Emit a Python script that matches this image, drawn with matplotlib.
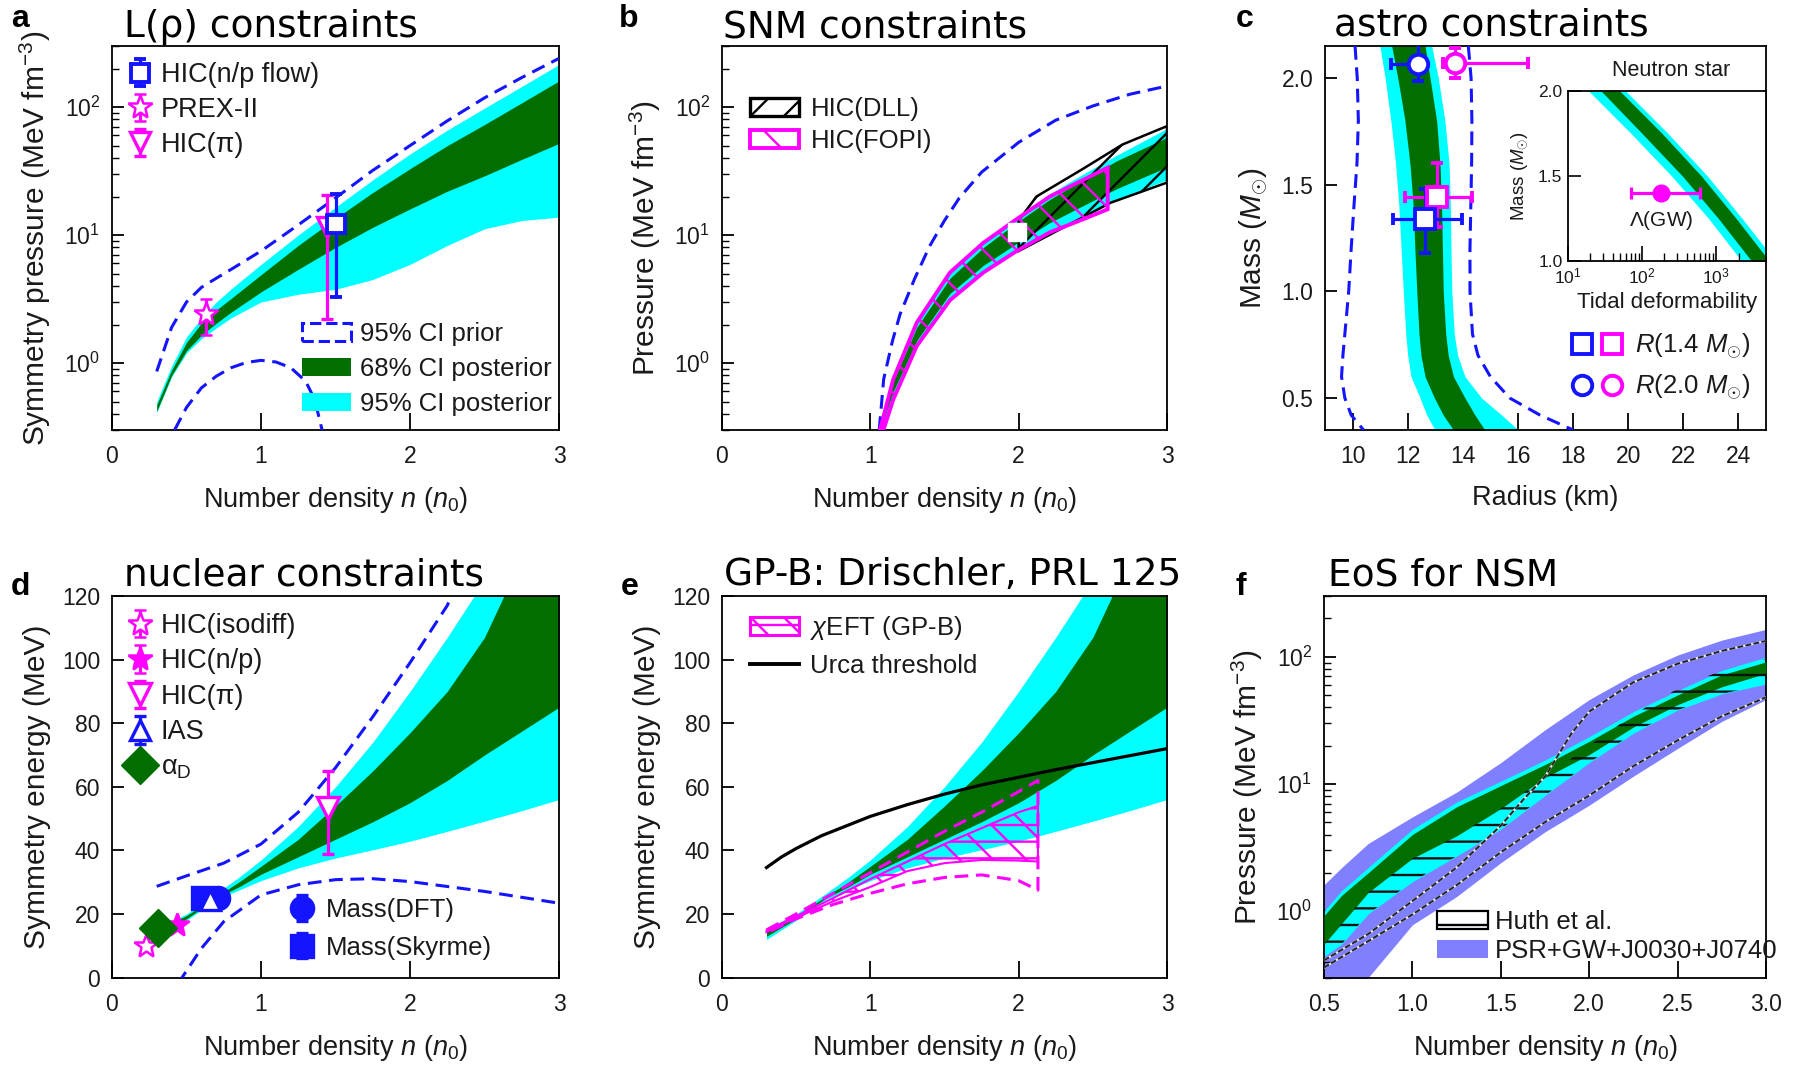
import numpy as np
import matplotlib
matplotlib.use('Agg')
import matplotlib.pyplot as plt
from matplotlib.patches import Patch
from matplotlib.lines import Line2D
from matplotlib.legend_handler import HandlerTuple
from matplotlib.ticker import LogLocator, NullFormatter

GREEN = '#006f00'
CYAN = '#00ffff'
BLUE = '#1414ff'
MAGENTA = '#ff00ff'
PURPLE = '#8080ff'
DASH = (0, (4.5, 2.5))

# ---------------- panel a: symmetry pressure ----------------
n_a = [0.3, 0.4, 0.5, 0.6, 0.7, 0.8, 1.0, 1.25, 1.5, 1.75, 2.0, 2.25, 2.5, 2.75, 3.0]
a_cyan_hi = [0.5, 0.95, 1.6, 2.25, 3.0, 3.8, 5.9, 10.0, 16.5, 27, 43, 66, 98, 145, 215]
a_green_hi = [0.47, 0.88, 1.45, 2.05, 2.6, 3.2, 4.9, 8.3, 13.5, 21.5, 33, 50, 73, 108, 160]
a_green_lo = [0.42, 0.8, 1.25, 1.65, 2.05, 2.5, 3.6, 5.4, 8.0, 11.5, 16, 22, 29, 39, 52]
a_cyan_lo = [0.41, 0.78, 1.2, 1.55, 1.88, 2.26, 3.0, 3.45, 3.77, 4.5, 5.9, 8.3, 11.2, 13.0, 13.8]
a_prior_hi = [0.86, 1.9, 3.0, 3.9, 4.6, 5.4, 7.5, 12, 19.5, 32, 50, 78, 118, 170, 240]
n_a_prior_lo = [0.42, 0.5, 0.6, 0.7, 0.8, 0.9, 1.0, 1.1, 1.2, 1.3, 1.36, 1.41]
a_prior_lo = [0.3, 0.45, 0.64, 0.79, 0.92, 1.01, 1.05, 1.02, 0.92, 0.72, 0.52, 0.3]
# points: n, value, low, high
flow_pt = (1.5, 12.2, 3.3, 21.0)
prex_pt = (0.63, 2.4, 1.67, 3.15)
pi_a_pt = (1.445, 11.5, 2.2, 20.4)

# ---------------- panel b: SNM pressure ----------------
n_b = [1.065, 1.155, 1.313, 1.537, 1.762, 1.986, 2.21, 2.435, 2.66, 3.0]
b_cyan_hi = [0.3, 0.8, 2.1, 5.0, 8.6, 13.5, 21, 30, 42, 68]
b_green_hi = [0.3, 0.72, 1.9, 4.6, 8.0, 12.5, 19, 27, 38, 58]
b_green_lo = [0.3, 0.6, 1.5, 3.5, 5.8, 8.6, 12.5, 17, 23, 34]
b_cyan_lo = [0.28, 0.52, 1.36, 3.1, 5.1, 7.5, 10.5, 14, 19, 27]
n_b_prior = [1.06, 1.09, 1.15, 1.2, 1.3, 1.4, 1.5, 1.6, 1.75, 2.0, 2.25, 2.5, 2.75, 3.0]
b_prior = [0.3, 0.75, 1.5, 2.4, 4.6, 8.2, 13, 19.5, 31, 53, 79, 102, 126, 146]
dll_n_hi = [2.0, 2.12, 2.435, 2.7, 3.0]
dll_hi = [13, 20, 33, 51, 71]
dll_n_lo = [2.0, 2.62, 3.0]
dll_lo = [7.5, 17.9, 25.7]
fopi_n_hi = [1.065, 1.155, 1.313, 1.537, 1.762, 1.986, 2.21, 2.435, 2.6]
fopi_hi = [0.3, 0.75, 2.07, 5.1, 8.7, 13.3, 20, 27, 33.6]
fopi_n_lo = [1.088, 1.155, 1.313, 1.537, 1.762, 1.986, 2.21, 2.435, 2.6]
fopi_lo = [0.3, 0.52, 1.36, 3.1, 5.1, 7.5, 10.5, 13.3, 15.9]
snm_pt = (1.99, 10.5)

# ---------------- panel c: mass-radius ----------------
M_c = [2.15, 2.0, 1.8, 1.6, 1.4, 1.2, 1.0, 0.8, 0.7, 0.6, 0.5, 0.42, 0.35]
c_cyan_l = [10.99, 11.18, 11.39, 11.56, 11.68, 11.76, 11.84, 11.93, 12.0, 12.12, 12.45, 12.69, 12.99]
c_green_l = [11.42, 11.64, 11.9, 12.08, 12.2, 12.26, 12.33, 12.41, 12.48, 12.63, 12.97, 13.29, 13.66]
c_green_r = [12.63, 12.81, 13.05, 13.17, 13.23, 13.26, 13.29, 13.38, 13.47, 13.66, 14.08, 14.44, 14.8]
c_cyan_r = [12.87, 13.11, 13.35, 13.5, 13.55, 13.57, 13.6, 13.69, 13.81, 14.08, 14.68, 15.41, 16.01]
c_prior_l = [10.09, 10.17, 10.21, 10.16, 10.05, 9.95, 9.86, 9.72, 9.65, 9.6, 9.72, 9.95, 10.4]
c_prior_r = [14.2, 14.3, 14.33, 14.32, 14.29, 14.26, 14.26, 14.35, 14.55, 15.0, 15.7, 16.8, 18.0]
# R, M, R_lo, R_hi, M_lo, M_hi
r20_blue = (12.39, 2.065, 11.41, 12.66, 1.985, 2.16)
r20_mag = (13.72, 2.07, 13.29, 16.38, 2.0, 2.14)
r14_mag = (13.05, 1.44, 11.9, 14.32, 1.30, 1.60)
r14_blue = (12.63, 1.34, 11.48, 13.96, 1.18, 1.48)
# inset: tidal deformability
M_in = [2.0, 1.75, 1.5, 1.25, 1.0]
in_cyan_l = [19, 71, 250, 790, 2200]
in_green_l = [28, 100, 350, 1070, 3000]
in_green_r = [50, 186, 630, 1860, 5200]
in_cyan_r = [60, 224, 760, 2240, 6300]
gw_pt = (182, 1.4, 70, 600)

# ---------------- panels d, e: symmetry energy ----------------
n_d = [0.3, 0.5, 0.7, 0.85, 1.0, 1.25, 1.5, 1.75, 2.0, 2.25, 2.5, 2.75, 3.0]
d_cyan_hi = [15.5, 20, 26.5, 31.5, 37, 47.5, 60, 74, 90, 107, 125, 145, 165]
d_green_hi = [15, 19.5, 25.5, 30, 35, 43.5, 54, 65, 77, 90, 107, 132, 160]
d_green_lo = [13, 18.5, 25, 28.5, 32.5, 38, 43.5, 49, 55, 62, 70, 77.5, 85]
d_cyan_lo = [12, 18, 24.5, 27.5, 30.5, 34.5, 37.6, 40.2, 42.9, 46, 49.2, 52.5, 56]
n_d_prior_hi = [0.3, 0.5, 0.75, 1.0, 1.25, 1.5, 1.75, 2.0, 2.25, 2.35]
d_prior_hi = [28.7, 32, 36, 42, 52, 66, 82, 99, 117, 128]
n_d_prior_lo = [0.45, 0.47, 0.6, 0.75, 1.0, 1.25, 1.5, 1.75, 2.0, 2.5, 3.0]
d_prior_lo = [-2, 0, 9.2, 17.6, 26, 29.2, 30.8, 31.1, 30.2, 27.1, 23.4]
isodiff_pt = (0.23, 10.0, 9.0, 11.0)
np_pt = (0.434, 16.5, 15.5, 17.5)
pi_d_pt = (1.45, 53.4, 38.9, 65.0)
ias_pt = (0.66, 24.4, 23.4, 25.4)
alphad_pt = (0.306, 15.5)
dft_pt = (0.712, 25.0, 24.0, 26.0)
skyrme_pt = (0.61, 25.0, 24.0, 26.0)

n_urca = [0.3, 0.4, 0.5, 0.67, 1.0, 1.25, 1.5, 1.75, 2.0, 2.25, 2.5, 2.75, 3.0]
e_urca = [34.6, 37.9, 40.6, 44.6, 50.7, 54.4, 57.7, 60.6, 63.0, 65.4, 67.6, 69.8, 72.0]
n_chi = [0.3, 0.5, 0.75, 1.0, 1.25, 1.5, 1.75, 2.0, 2.13]
chi_out_hi = [15, 20, 26.5, 33, 39.5, 46, 52, 58.5, 62]
chi_out_lo = [14, 18.5, 23, 26.5, 29.5, 31.5, 32.3, 30.5, 27.5]
chi_in_hi = [14.8, 19.3, 25, 31, 36.5, 42, 47, 52, 54]
chi_in_lo = [14.3, 18.8, 24, 28.5, 33.5, 36, 37, 36.8, 36.5]

# ---------------- panel f: NSM pressure ----------------
n_f = [0.5, 0.6, 0.75, 1.0, 1.25, 1.5, 1.75, 2.0, 2.25, 2.5, 2.75, 3.0]
f_psr_hi = [1.61, 2.2, 3.4, 5.5, 8.6, 14.7, 26.6, 46, 72, 103, 135, 164]
f_psr_lo = [0.12, 0.17, 0.3, 0.78, 1.3, 2.4, 4.2, 6.8, 11.5, 19, 31, 46]
f_cyan_hi = [1.0, 1.45, 2.2, 4.4, 7.2, 10.5, 15.4, 23.5, 37, 54, 78, 99]
f_green_hi = [0.92, 1.33, 2.0, 4.0, 6.6, 9.7, 14.2, 21.6, 34, 50, 72, 91]
f_green_lo = [0.55, 0.8, 1.4, 2.6, 3.9, 6.4, 11.2, 17, 28, 42, 58, 74]
f_cyan_lo = [0.44, 0.55, 0.95, 1.7, 2.7, 4.4, 8.1, 14.7, 25, 38, 51, 61]
f_huth_hi = [0.55, 0.8, 1.4, 2.6, 3.9, 6.4, 11.2, 20, 35, 56, 78, 96]
n_f_dash_a = [0.5, 0.75, 1.0, 1.25, 1.5, 1.63, 1.75, 1.9, 2.0, 2.25, 2.5, 2.75, 3.0]
f_dash_a = [0.41, 0.66, 1.2, 2.2, 4.7, 7.6, 11.4, 25, 37, 63, 88, 111, 133]
n_f_dash_b = [0.5, 0.75, 1.0, 1.25, 1.5, 1.75, 2.0, 2.25, 2.5, 2.75, 3.0]
f_dash_b = [0.36, 0.58, 0.94, 1.6, 2.9, 5.0, 8.1, 13.8, 22, 34, 48]

LEG = 18.5
plt.rcParams.update({
    'font.family': ['Liberation Sans', 'DejaVu Sans'],
    'mathtext.fontset': 'custom',
    'mathtext.rm': 'Liberation Sans',
    'mathtext.it': 'Liberation Sans:italic',
    'axes.linewidth': 1.3,
    'xtick.direction': 'in',
    'ytick.direction': 'in',
    'xtick.labelsize': 16.5,
    'ytick.labelsize': 16.5,
    'axes.labelsize': 19.5,
    'text.color': '#1a1a1a',
    'axes.labelcolor': '#1a1a1a',
    'xtick.labelcolor': '#1a1a1a',
    'ytick.labelcolor': '#1a1a1a',
    'hatch.linewidth': 1.7,
    'legend.frameon': False,
    'legend.fontsize': LEG,
    'legend.borderpad': 0,
    'legend.borderaxespad': 0,
})

W, H = 1803, 1065
fig = plt.figure(figsize=(W / 100, H / 100), dpi=100)


def box(l, r, t, b):
    return [l / W, 1 - b / H, (r - l) / W, (b - t) / H]


def at(b, x, y):
    # pixel position -> axes fraction for an axes placed with box()
    l, r, t, bt = b
    return ((x - l) / (r - l), (bt - y) / (bt - t))


def prep(ax, log=False):
    ax.tick_params(axis='x', which='major', length=12, width=1.3, pad=11)
    ax.tick_params(axis='y', which='major', length=8.5, width=1.3, pad=8.5)
    ax.tick_params(axis='y', which='minor', length=5, width=1.0)
    if log:
        ax.set_yscale('log')
        ax.set_ylim(0.3, 300)
        ax.yaxis.set_minor_locator(LogLocator(subs=np.arange(2, 10)))
        ax.yaxis.set_minor_formatter(NullFormatter())


def nlabel(ax):
    ax.set_xlabel('Number density $n$ ($n_0$)', labelpad=12)
    ax.set_xlim(0, 3)
    ax.set_xticks([0, 1, 2, 3])


def ylab(ax, s):
    ax.set_ylabel(s, fontsize=21.5, labelpad=8)


def errbar(ax, pt, color, marker, ms, mfc, z, mew=2.4):
    x, y, lo, hi = pt
    return ax.errorbar([x], [y], yerr=[[y - lo], [hi - y]], fmt=marker, ms=ms,
                       mfc=mfc, mec=color, mew=mew, ecolor=color, elinewidth=2.3,
                       capsize=4.5, capthick=2.3, zorder=z)


def title(x, y, s):
    fig.text(x / W, 1 - y / H, s, fontsize=27, family='DejaVu Sans',
             color='black', va='baseline', ha='left')


def letter(x, y, s):
    fig.text(x / W, 1 - y / H, s, fontsize=23, fontweight='bold',
             color='black', va='baseline', ha='left')


# ================= a =================
BA = (112, 559, 46, 430)
ax = fig.add_axes(box(*BA))
prep(ax, log=True)
ax.fill_between(n_a, a_cyan_lo, a_cyan_hi, color=CYAN, lw=0, zorder=1)
ax.fill_between(n_a, a_green_lo, a_green_hi, color=GREEN, lw=0, zorder=2)
ax.plot(n_a, a_prior_hi, color=BLUE, ls=DASH, lw=2.2, zorder=3)
ax.plot(n_a_prior_lo, a_prior_lo, color=BLUE, ls=DASH, lw=2.2, zorder=3)
e_pi = errbar(ax, pi_a_pt, MAGENTA, 'v', 14, 'white', 4)
e_flow = errbar(ax, flow_pt, BLUE, 's', 13, 'white', 5, mew=2.8)
e_prex = errbar(ax, prex_pt, MAGENTA, '*', 18, 'white', 5, mew=1.8)
nlabel(ax)
ylab(ax, 'Symmetry pressure (MeV fm$^{-3}$)')
leg1 = ax.legend([e_flow, e_prex, e_pi], ['HIC(n/p flow)', 'PREX-II', 'HIC(π)'],
                 loc='upper left', bbox_to_anchor=at(BA, 127, 62), handlelength=0.95,
                 handletextpad=0.3, labelspacing=0.33, fontsize=19.5)
ax.add_artist(leg1)
ax.legend([Patch(facecolor='white', edgecolor=BLUE, ls='--', lw=2.2),
           Patch(facecolor=GREEN, edgecolor='none'),
           Patch(facecolor=CYAN, edgecolor='none')],
          ['95% CI prior', '68% CI posterior', '95% CI posterior'],
          loc='lower left', bbox_to_anchor=at(BA, 302, 416), handlelength=1.9,
          handleheight=0.7, handletextpad=0.35, labelspacing=0.43)
title(124, 37, 'L(ρ) constraints')
letter(11, 27, 'a')

# ================= b =================
BB = (722, 1167, 46, 430)
ax = fig.add_axes(box(*BB))
prep(ax, log=True)
ax.fill_between(n_b, b_cyan_lo, b_cyan_hi, color=CYAN, lw=0, zorder=1)
ax.fill_between(n_b, b_green_lo, b_green_hi, color=GREEN, lw=0, zorder=2)
ax.plot(n_b_prior, b_prior, color=BLUE, ls=DASH, lw=2.2, zorder=3)
ax.fill(dll_n_hi + dll_n_lo[::-1], dll_hi + dll_lo[::-1], facecolor='none',
        edgecolor='black', hatch='/', lw=1.8, zorder=4)
ax.fill(fopi_n_hi + fopi_n_lo[::-1], fopi_hi + fopi_lo[::-1], facecolor='none',
        edgecolor=MAGENTA, hatch='\\', lw=2.8, zorder=5)
ax.plot([snm_pt[0]], [snm_pt[1]], 's', ms=13, mfc='white', mec='white', zorder=6)
nlabel(ax)
ylab(ax, 'Pressure (MeV fm$^{-3}$)')
ax.legend([Patch(facecolor='white', edgecolor='black', hatch='/', lw=2.4),
           Patch(facecolor='white', edgecolor=MAGENTA, hatch='\\', lw=2.8)],
          ['HIC(DLL)', 'HIC(FOPI)'], loc='upper left', bbox_to_anchor=at(BB, 750, 97),
          handlelength=1.9, handleheight=0.7, handletextpad=0.45, labelspacing=0.3)
title(723, 37, 'SNM constraints')
letter(619, 27, 'b')

# ================= c =================
BC = (1325, 1766, 46, 430)
ax = fig.add_axes(box(*BC))
prep(ax)
ax.fill_betweenx(M_c, c_cyan_l, c_cyan_r, color=CYAN, lw=0, zorder=1)
ax.fill_betweenx(M_c, c_green_l, c_green_r, color=GREEN, lw=0, zorder=2)
ax.plot(c_prior_l, M_c, color=BLUE, ls=DASH, lw=2.2, zorder=3)
ax.plot(c_prior_r, M_c, color=BLUE, ls=DASH, lw=2.2, zorder=3)
for pt, col, mk in [(r20_blue, BLUE, 'o'), (r20_mag, MAGENTA, 'o'),
                    (r14_mag, MAGENTA, 's'), (r14_blue, BLUE, 's')]:
    r, m, rl, rh, ml, mh = pt
    ax.errorbar([r], [m], xerr=[[r - rl], [rh - r]], yerr=[[m - ml], [mh - m]],
                fmt=mk, ms=14, mfc='white', mec=col, mew=2.8, ecolor=col,
                elinewidth=2.3, capsize=4.5, capthick=2.3, zorder=5)
ax.set_xlim(9, 25)
ax.set_xticks(range(10, 25, 2))
ax.set_ylim(0.35, 2.15)
ax.set_yticks([0.5, 1.0, 1.5, 2.0])
ax.set_yticklabels(['0.5', '1.0', '1.5', '2.0'])
ax.set_xlabel('Radius (km)', labelpad=12)
ylab(ax, 'Mass ($M_{\\odot}$)')


def mk(marker, col):
    return Line2D([], [], ls='none', marker=marker, ms=14, mfc='white', mec=col, mew=2.8)


ax.legend([(mk('s', BLUE), mk('s', MAGENTA)), (mk('o', BLUE), mk('o', MAGENTA))],
          ['$R$(1.4 $M_{\\odot}$)', '$R$(2.0 $M_{\\odot}$)'],
          handler_map={tuple: HandlerTuple(ndivide=None, pad=0.0)},
          loc='upper left', bbox_to_anchor=at(BC, 1567, 332), handlelength=2.35,
          handletextpad=0.3, labelspacing=0.45)
title(1334, 36, 'astro constraints')
letter(1236, 27, 'c')

axi = fig.add_axes(box(1568, 1766, 91, 261))
axi.set_xscale('log')
axi.fill_betweenx(M_in, in_cyan_l, in_cyan_r, color=CYAN, lw=0, zorder=1)
axi.fill_betweenx(M_in, in_green_l, in_green_r, color=GREEN, lw=0, zorder=2)
axi.errorbar([gw_pt[0]], [gw_pt[1]], xerr=[[gw_pt[0] - gw_pt[2]], [gw_pt[3] - gw_pt[0]]],
             fmt='o', ms=12, color=MAGENTA, elinewidth=2.3, capsize=4.5, capthick=2.3,
             zorder=5)
axi.text(gw_pt[0], 1.24, '$\\mathit{Λ}$(GW)', fontsize=15, ha='center', va='center')
axi.set_xlim(10, 4700)
axi.set_ylim(1.0, 2.0)
axi.set_yticks([1.0, 1.5, 2.0])
axi.set_yticklabels(['1.0', '1.5', '2.0'])
axi.tick_params(axis='both', which='major', labelsize=12.5, pad=4)
axi.tick_params(axis='x', which='major', length=11, width=1.2)
axi.tick_params(axis='x', which='minor', length=6, width=1.0)
axi.tick_params(axis='y', which='major', length=9, width=1.2)
axi.set_xlabel('Tidal deformability', fontsize=16, labelpad=4)
axi.set_ylabel('Mass ($M_{\\odot}$)', fontsize=13.5, labelpad=6)
axi.text(0.52, 1.12, 'Neutron star', transform=axi.transAxes, fontsize=15.5,
         ha='center', va='center')

# ================= d =================
BD = (112, 559, 596, 977.6)
ax = fig.add_axes(box(*BD))
prep(ax)
ax.fill_between(n_d, d_cyan_lo, d_cyan_hi, color=CYAN, lw=0, zorder=1)
ax.fill_between(n_d, d_green_lo, d_green_hi, color=GREEN, lw=0, zorder=2)
ax.plot(n_d_prior_hi, d_prior_hi, color=BLUE, ls=DASH, lw=2.2, zorder=3)
ax.plot(n_d_prior_lo, d_prior_lo, color=BLUE, ls=DASH, lw=2.2, zorder=3)
e_sky = errbar(ax, skyrme_pt, BLUE, 's', 16, BLUE, 4)
e_dft = errbar(ax, dft_pt, BLUE, 'o', 16, BLUE, 4)
e_ias = errbar(ax, ias_pt, BLUE, '^', 15, 'white', 5)
e_iso = errbar(ax, isodiff_pt, MAGENTA, '*', 18, 'white', 5, mew=1.8)
e_np = errbar(ax, np_pt, MAGENTA, '*', 18, MAGENTA, 5, mew=1.8)
h_ad, = ax.plot([alphad_pt[0]], [alphad_pt[1]], 'D', ms=19, color=GREEN, zorder=6)
e_pid = errbar(ax, pi_d_pt, MAGENTA, 'v', 16, 'white', 5)
nlabel(ax)
ax.set_ylim(0, 120)
ax.set_yticks(range(0, 121, 20))
ylab(ax, 'Symmetry energy (MeV)')
leg1 = ax.legend([e_iso, e_np, e_pid, e_ias, h_ad],
                 ['HIC(isodiff)', 'HIC(n/p)', 'HIC(π)', 'IAS', '$\\mathregular{α_D}$'],
                 loc='upper left', bbox_to_anchor=at(BD, 127, 613), handlelength=0.95,
                 handletextpad=0.3, labelspacing=0.35, fontsize=19.5)
ax.add_artist(leg1)
ax.legend([e_dft, e_sky], ['Mass(DFT)', 'Mass(Skyrme)'], loc='upper left',
          bbox_to_anchor=at(BD, 289, 898), handlelength=1.0, handletextpad=0.45,
          labelspacing=0.53)
title(124, 585, 'nuclear constraints')
letter(11, 595, 'd')

# ================= e =================
BE = (722, 1167, 596, 977.6)
ax = fig.add_axes(box(*BE))
prep(ax)
ax.fill_between(n_d, d_cyan_lo, d_cyan_hi, color=CYAN, lw=0, zorder=1)
ax.fill_between(n_d, d_green_lo, d_green_hi, color=GREEN, lw=0, zorder=2)
ax.plot(n_urca, e_urca, color='black', lw=2.3, zorder=4)
ax.fill(n_chi + n_chi[::-1], chi_in_hi + chi_in_lo[::-1], facecolor='none',
        edgecolor=MAGENTA, hatch='\\-', lw=1.5, zorder=3)
ax.plot(n_chi + n_chi[::-1], chi_out_hi + chi_out_lo[::-1], color=MAGENTA,
        ls=DASH, lw=2.2, zorder=3)
nlabel(ax)
ax.set_ylim(0, 120)
ax.set_yticks(range(0, 121, 20))
ylab(ax, 'Symmetry energy (MeV)')
ax.legend([Patch(facecolor='white', edgecolor=MAGENTA, hatch='\\-', lw=2.2),
           Line2D([], [], color='black', lw=2.8)],
          ['$\\mathit{χ}$EFT (GP-B)', 'Urca threshold'], loc='upper left',
          bbox_to_anchor=at(BE, 750, 614), handlelength=1.9, handleheight=0.7,
          handletextpad=0.45, labelspacing=0.48)
title(724, 585, 'GP-B: Drischler, PRL 125')
letter(621, 595, 'e')

# ================= f =================
BF = (1324, 1766, 596, 977.6)
ax = fig.add_axes(box(*BF))
prep(ax, log=True)
ax.fill_between(n_f, f_psr_lo, f_psr_hi, color=PURPLE, lw=0, zorder=1)
ax.fill_between(n_f, f_cyan_lo, f_cyan_hi, color=CYAN, lw=0, zorder=2)
ax.fill_between(n_f, f_green_lo, f_green_hi, color=GREEN, lw=0, zorder=3)
ax.fill_between(n_f, f_cyan_lo, f_huth_hi, facecolor='none', edgecolor='#111111',
                hatch='-', lw=0, zorder=4)
for nx, ys in ((n_f_dash_a, f_dash_a), (n_f_dash_b, f_dash_b)):
    ax.plot(nx, ys, color='#e8e8e8', lw=1.6, zorder=5)
    ax.plot(nx, ys, color='#222222', ls=(0, (3, 1.2)), lw=1.4, zorder=6)
ax.set_xlim(0.5, 3.0)
ax.set_xticks([0.5, 1.0, 1.5, 2.0, 2.5, 3.0])
ax.set_xticklabels(['0.5', '1.0', '1.5', '2.0', '2.5', '3.0'])
ax.set_xlabel('Number density $n$ ($n_0$)', labelpad=12)
ylab(ax, 'Pressure (MeV fm$^{-3}$)')
ax.legend([Patch(facecolor='white', edgecolor='black', hatch='-', lw=1.6),
           Patch(facecolor=PURPLE, edgecolor='none')],
          ['Huth et al.', 'PSR+GW+J0030+J0740'], loc='lower left',
          bbox_to_anchor=at(BF, 1437, 963), handlelength=2.0, handleheight=0.7,
          handletextpad=0.25, labelspacing=0.2)
title(1328, 585, 'EoS for NSM')
letter(1236, 595, 'f')

fig.savefig('out.png', dpi=100)
